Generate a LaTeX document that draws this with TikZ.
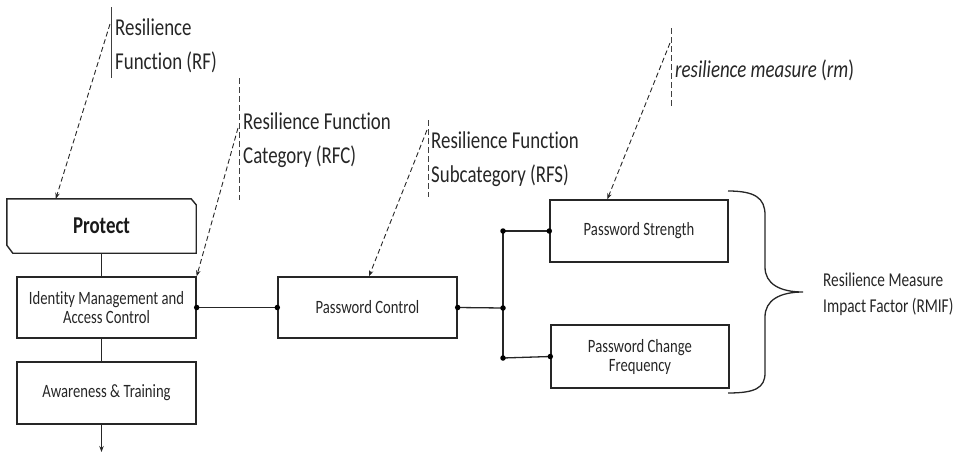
\documentclass[tikz,border=0pt]{standalone}
\usepackage{fontspec}
\setmainfont{Carlito}[FakeStretch=0.78, Ligatures=NoCommon]
\usetikzlibrary{arrows.meta,calc}
\begin{document}
\begin{tikzpicture}[x=1pt,y=-1pt,
  box/.style={draw=black!85, line width=1.4pt, align=center, inner sep=0pt,
    font=\fontsize{18.8}{19}\selectfont, text=black!85},
  dotc/.style={circle, fill=black, inner sep=0pt, minimum size=5.5pt},
  conn/.style={line width=1.3pt, draw=black!85},
  lead/.style={dash pattern=on 5pt off 3pt, line width=0.9pt, draw=black!85,
    -{Stealth[length=6pt,width=4.5pt]}},
  accbar/.style={line width=0.9pt, draw=black!75},
  accdash/.style={dash pattern=on 6pt off 3pt, line width=0.9pt, draw=black!75},
  bigtxt/.style={anchor=west, align=left, inner sep=0pt, text=black!85,
    font=\fontsize{24.2}{34}\selectfont},
  midtxt/.style={anchor=west, align=left, inner sep=0pt, text=black!85,
    font=\fontsize{19.6}{26}\selectfont}]
\useasboundingbox (0,0) rectangle (959,453);

% boxes
\node[inner sep=0pt, minimum width=189pt, minimum height=54pt,
  font=\fontsize{24.2}{26}\selectfont\bfseries, text=black!90] (protect) at (101.5,226) {Protect};
\draw[line width=1.4pt, draw=black!85]
  (protect.north west) -- ($(protect.north east)+(-5,0)$) -- ($(protect.north east)+(0,6)$)
  -- (protect.south east) -- ($(protect.south west)+(6,0)$) -- ($(protect.south west)+(0,-8)$) -- cycle;

\node[box, minimum width=179pt, minimum height=61pt] (imac) at (106.5,307.5)
  {Identity Management and\\Access Control};
\node[box, minimum width=179pt, minimum height=62pt] (aware) at (106.5,393)
  {Awareness \& Training};
\node[box, minimum width=179pt, minimum height=61pt] (pc) at (367.5,307.5)
  {Password Control};
\node[box, minimum width=178pt, minimum height=62pt] (ps) at (639,231)
  {Password Strength};
\node[box, minimum width=178pt, minimum height=63pt] (pcf) at (640,356.5)
  {Password Change\\Frequency};

% junctions
\coordinate (j1) at (503,308);
\coordinate (jt) at (503,231);
\coordinate (jb) at (503,358);
\coordinate (arrend) at (101.5,452);

% connectors
\draw[conn] (protect.south) -- (protect.south |- imac.north);
\draw[conn] (protect.south |- imac.south) -- (protect.south |- aware.north);
\draw[conn, -{Stealth[length=6pt,width=4.5pt]}] (protect.south |- aware.south) -- (arrend);
\draw[conn] (imac.east) -- (pc.west);
\draw[conn] (pc.east) -- (j1);
\draw[conn] (jt) -- (jb);
\draw[conn] (jt) -- (ps.west);
\draw[conn] (jb) -- (pcf.west);
\foreach \p in {imac.east, pc.west, pc.east, j1, jt, jb, ps.west, pcf.west}
  \node[dotc] at (\p) {};

% brace
\draw[line width=1.3pt, draw=black!85]
  (728,191) .. controls (755,191) and (765,198) .. (765,215)
  -- (765,267) .. controls (765,284) and (780,292) .. (803,292)
  .. controls (780,292) and (765,300) .. (765,317)
  -- (765,373) .. controls (765,388) and (755,393) .. (728,393);
\node[midtxt] (rmif) at (823,294) {Resilience Measure\\Impact Factor (RMIF)};

% callouts
\node[bigtxt] (rf) at (115,45.5) {Resilience\\Function (RF)};
\draw[accbar] (111,7) -- (111,78);
\coordinate (rfs0) at (110,24);
\draw[lead] (rfs0) -- ($(protect.north west)+(49,0)$);

\node[bigtxt] (rfc) at (243,140) {Resilience Function\\Category (RFC)};
\draw[accdash] (239,78) -- (239,200);
\coordinate (rfc0) at (238,128);
\draw[lead] (rfc0) -- (imac.north east);

\node[bigtxt] (rfsub) at (431,159.5) {Resilience Function\\Subcategory (RFS)};
\draw[accdash] (428,120) -- (428,197);
\coordinate (rfsub0) at (427,130);
\draw[lead] (rfsub0) -- ($(pc.north)+(1.5,0)$);

\node[bigtxt] (rm) at (675,70) {\textit{resilience measure} (\textit{rm})};
\draw[accdash] (671,28) -- (671,106);
\coordinate (rm0) at (670,43);
\draw[lead] (rm0) -- ($(ps.north west)+(58,0)$);
\end{tikzpicture}
\end{document}
